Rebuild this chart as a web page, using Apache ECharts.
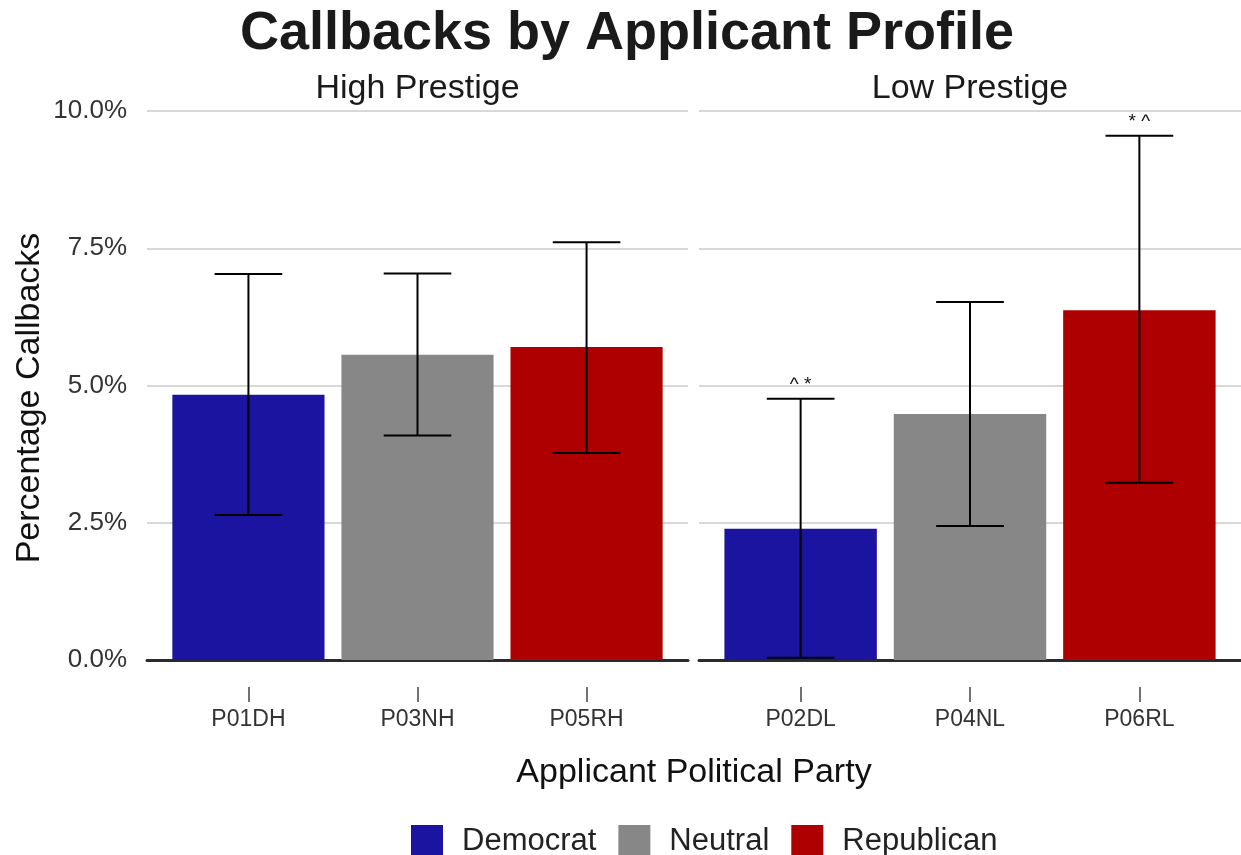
<!DOCTYPE html>
<html>
<head>
<meta charset="utf-8">
<title>Callbacks by Applicant Profile</title>
<script src="https://cdn.jsdelivr.net/npm/echarts@6/dist/echarts.min.js"></script>
<style>
  html, body { margin: 0; padding: 0; background: #ffffff; }
  #chart { width: 1241px; height: 855px; }
</style>
</head>
<body>
<div id="chart"></div>
<script>
// Callback rates (%) with confidence limits, one facet per prestige level
const parties = ['Democrat', 'Neutral', 'Republican'];
const partyColors = ['#1a14a0', '#878787', '#ae0000'];
const panelTitles = ['High Prestige', 'Low Prestige'];

const highProfiles = ['P01DH', 'P03NH', 'P05RH'];
const highRate = [4.83, 5.56, 5.70];
const highLower = [2.64, 4.09, 3.77];
const highUpper = [7.03, 7.04, 7.61];
const highMarks = ['', '', ''];

const lowProfiles = ['P02DL', 'P04NL', 'P06RL'];
const lowRate = [2.39, 4.48, 6.37];
const lowLower = [0.04, 2.44, 3.23];
const lowUpper = [4.76, 6.52, 9.55];
const lowMarks = ['^ *', '', '* ^'];

const yMin = 0, yMax = 10, yStep = 2.5;

const FONT = '"Liberation Sans", Arial, Helvetica, sans-serif';

const panels = [
  { profiles: highProfiles, rate: highRate, lower: highLower, upper: highUpper, marks: highMarks },
  { profiles: lowProfiles, rate: lowRate, lower: lowLower, upper: lowUpper, marks: lowMarks }
];

const gridBox = [
  { left: 147, top: 111, width: 541, height: 549 },
  { left: 699, top: 111, width: 542, height: 549 }
];

function makeRenderer(marks) {
  return function (params, api) {
    const x = api.value(0);
    const r = api.value(1);
    const lo = api.value(2);
    const hi = api.value(3);
    const base = api.coord([x, 0]);
    const top = api.coord([x, r]);
    const pLo = api.coord([x, lo]);
    const pHi = api.coord([x, hi]);
    const bw = api.size([0.9, 0])[0];
    const cw = api.size([0.4, 0])[0];
    const stroke = { stroke: '#000000', lineWidth: 2 };
    const children = [
      {
        type: 'rect',
        shape: { x: base[0] - bw / 2, y: top[1], width: bw, height: base[1] - top[1] },
        style: { fill: api.visual('color') }
      },
      { type: 'line', shape: { x1: pLo[0], y1: pLo[1], x2: pHi[0], y2: pHi[1] }, style: stroke },
      { type: 'line', shape: { x1: pLo[0] - cw / 2, y1: pLo[1], x2: pLo[0] + cw / 2, y2: pLo[1] }, style: stroke },
      { type: 'line', shape: { x1: pHi[0] - cw / 2, y1: pHi[1], x2: pHi[0] + cw / 2, y2: pHi[1] }, style: stroke }
    ];
    const mark = marks[Math.round(x) - 1];
    if (mark) {
      children.push({
        type: 'text',
        x: pHi[0],
        y: pHi[1] - 14,
        style: {
          text: mark, fontSize: 19, fontFamily: FONT, fill: '#111111',
          align: 'center', verticalAlign: 'middle'
        }
      });
    }
    return { type: 'group', children: children };
  };
}

const grids = gridBox.map(g => Object.assign({ containLabel: false }, g));

const xAxes = [];
const yAxes = [];
panels.forEach((p, pi) => {
  // zero baseline
  xAxes.push({
    type: 'value', gridIndex: pi, position: 'bottom', min: 0.4, max: 3.6,
    axisLine: { show: true, onZero: false, lineStyle: { color: '#2b2b2b', width: 3 } },
    axisTick: { show: false }, axisLabel: { show: false }, splitLine: { show: false }
  });
  // profile ticks and labels, set below the panel
  xAxes.push({
    type: 'value', gridIndex: pi, position: 'bottom', offset: 27, min: 0.4, max: 3.6,
    axisLine: { show: true, onZero: false, lineStyle: { color: 'rgba(0,0,0,0)', width: 1 } },
    axisTick: { show: true, customValues: [1, 2, 3], length: 15, lineStyle: { color: '#444444', width: 1.5 } },
    axisLabel: {
      show: true, customValues: [1, 2, 3], margin: 21,
      formatter: v => p.profiles[Math.round(v) - 1] || '',
      fontSize: 23, fontFamily: FONT, color: '#333333'
    },
    splitLine: { show: false }
  });
  yAxes.push({
    type: 'value', gridIndex: pi, min: yMin, max: yMax, interval: yStep,
    axisLine: { show: false }, axisTick: { show: false },
    axisLabel: {
      show: pi === 0, margin: 20,
      formatter: v => v.toFixed(1) + '%',
      fontSize: 26, fontFamily: FONT, color: '#333333'
    },
    splitLine: { show: true, lineStyle: { color: '#cbcbcb', width: 1.6 } }
  });
});

const series = [];
panels.forEach((p, pi) => {
  parties.forEach((party, i) => {
    series.push({
      type: 'custom',
      name: party,
      xAxisIndex: pi * 2,
      yAxisIndex: pi,
      itemStyle: { color: partyColors[i] },
      encode: { x: 0, y: [1, 2, 3] },
      data: [[i + 1, p.rate[i], p.lower[i], p.upper[i]]],
      renderItem: makeRenderer(p.marks),
      clip: false,
      silent: true
    });
  });
});

const textBase = { fontFamily: FONT, fill: '#1a1a1a', align: 'center', verticalAlign: 'middle' };

const option = {
  animation: false,
  backgroundColor: '#ffffff',
  grid: grids,
  xAxis: xAxes,
  yAxis: yAxes,
  legend: {
    data: parties,
    left: 406,
    top: 820,
    icon: 'rect',
    itemWidth: 32,
    itemHeight: 32,
    itemGap: 22,
    selectedMode: false,
    textStyle: { fontSize: 31, fontFamily: FONT, color: '#222222', padding: [0, 0, 0, 14] }
  },
  graphic: [
    { type: 'text', x: 627, y: 34, style: Object.assign({}, textBase, { text: 'Callbacks by Applicant Profile', fontSize: 54, fontWeight: 'bold' }) },
    { type: 'text', x: 417.5, y: 89, style: Object.assign({}, textBase, { text: panelTitles[0], fontSize: 34 }) },
    { type: 'text', x: 970, y: 89, style: Object.assign({}, textBase, { text: panelTitles[1], fontSize: 34 }) },
    { type: 'text', x: 694, y: 773, style: Object.assign({}, textBase, { text: 'Applicant Political Party', fontSize: 34, fill: '#111111' }) },
    { type: 'text', x: 30, y: 398, rotation: Math.PI / 2, style: Object.assign({}, textBase, { text: 'Percentage Callbacks', fontSize: 34, fill: '#111111' }) }
  ],
  series: series
};

const chart = echarts.init(document.getElementById('chart'), null, { renderer: 'canvas' });
chart.setOption(option);
</script>
</body>
</html>
